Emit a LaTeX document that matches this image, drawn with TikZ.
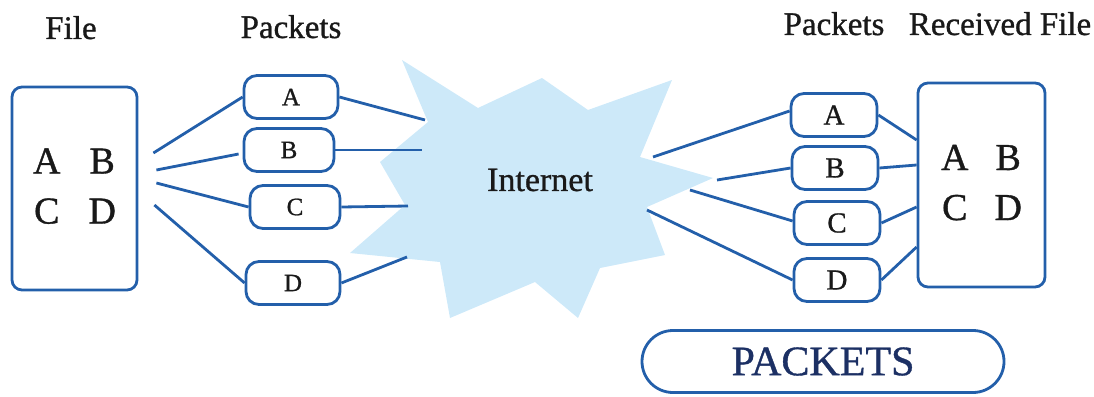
\documentclass[tikz,border=0pt]{standalone}
\usepackage{fontspec}
\setmainfont{Liberation Serif}[FakeBold=0.9]
\usetikzlibrary{calc}
\definecolor{lineblue}{RGB}{35,95,170}
\definecolor{cloudblue}{RGB}{205,233,249}
\definecolor{navy}{RGB}{28,48,100}
\definecolor{ink}{RGB}{25,25,25}
\begin{document}
\begin{tikzpicture}[x=1pt,y=-1pt,
  conn/.style={draw=lineblue,line width=2.8pt},
  filebox/.style={draw=lineblue,line width=2.8pt,rounded corners=10pt,minimum width=125pt,minimum height=203pt,inner sep=0pt,text=ink,
    font=\fontsize{38}{50}\selectfont},
  pkt/.style={draw=lineblue,line width=2.8pt,rounded corners=13pt,minimum width=94pt,minimum height=43pt,inner sep=0pt,text=ink},
  lbl/.style={font=\fontsize{33}{36}\selectfont,anchor=base,text=ink},
]
\useasboundingbox (0,0) rectangle (1094,396);

% cloud
\fill[cloudblue] (402,60) -- (478,108) -- (542,78) -- (588,110) -- (672,80) -- (640,157)
  -- (713,178) -- (647,207) -- (665,255) -- (600,268) -- (578,318) -- (535,282)
  -- (450,318) -- (440,262) -- (350,253) -- (405,205) -- (380,162) -- (428,122) -- cycle;
\node[font=\fontsize{34}{36}\selectfont,text=ink] (net) at (540,180) {Internet};

% labels
\node[lbl] (lfile) at (71,39) {File};
\node[lbl] (lpk1) at (291,38) {Packets};
\node[lbl] (lpk2) at (834,35) {Packets};
\node[lbl] (lrec) at (1000,35) {Received File};

% file boxes
\node[filebox] (fileL) at (74.5,188.5) {\begin{tabular}{@{}c@{\hspace{28pt}}c@{}}A&B\\C&D\end{tabular}};
\node[filebox,minimum width=127pt,minimum height=204pt] (fileR) at (981.5,185) {\begin{tabular}{@{}c@{\hspace{26pt}}c@{}}A&B\\C&D\end{tabular}};

% left packets
\node[pkt,font=\fontsize{25}{27}\selectfont] (pA) at (291,97) {A};
\node[pkt,font=\fontsize{25}{27}\selectfont,minimum width=90pt] (pB) at (289,150) {B};
\node[pkt,font=\fontsize{25}{27}\selectfont,minimum width=90pt] (pC) at (295,207) {C};
\node[pkt,font=\fontsize{25}{27}\selectfont] (pD) at (293,283) {D};

% right packets
\node[pkt,font=\fontsize{29}{31}\selectfont,minimum width=86pt] (qA) at (834,115) {A};
\node[pkt,font=\fontsize{29}{31}\selectfont,minimum width=86pt] (qB) at (835,168) {B};
\node[pkt,font=\fontsize{29}{31}\selectfont,minimum width=86pt] (qC) at (837,223) {C};
\node[pkt,font=\fontsize{29}{31}\selectfont,minimum width=86pt] (qD) at (837,280) {D};

% cloud end points
\coordinate (cLA) at (425,120);
\coordinate (cLB) at (422,150);
\coordinate (cLC) at (408,206);
\coordinate (cLD) at (407,257);
\coordinate (cRA) at (653,157);
\coordinate (cRB) at (717,180);
\coordinate (cRC) at (690,190);
\coordinate (cRD) at (647,210);

% left connectors
\draw[conn] ([xshift=15pt,yshift=35.5pt]fileL.east) -- (pA.west);
\draw[conn] ([xshift=18pt,yshift=18.5pt]fileL.east) -- ([xshift=-4pt,yshift=-4pt]pB.west);
\draw[conn] ([xshift=18pt,yshift=5.5pt]fileL.east) -- (pC.west);
\draw[conn] ([xshift=16pt,yshift=-16.5pt]fileL.east) -- (pD.west);
\draw[conn] (pA.east) -- (cLA);
\draw[conn] (pB.east) -- (cLB);
\draw[conn] (pC.east) -- (cLC);
\draw[conn] (pD.east) -- (cLD);

% right connectors
\draw[conn] (cRA) -- ([yshift=4pt]qA.west);
\draw[conn] (cRB) -- (qB.west);
\draw[conn] (cRC) -- ([yshift=2pt]qC.west);
\draw[conn] (cRD) -- (qD.west);
\draw[conn] (qA.east) -- ([yshift=45pt]fileR.west);
\draw[conn] (qB.east) -- ([yshift=20pt]fileR.west);
\draw[conn] (qC.east) -- ([yshift=-22pt]fileR.west);
\draw[conn] (qD.east) -- ([yshift=-62pt]fileR.west);

% PACKETS banner
\node[draw=lineblue,line width=2.8pt,rounded corners=31pt,minimum width=362pt,minimum height=62pt,
  inner sep=0pt,font=\fontsize{42}{44}\selectfont,text=navy] (pk) at (823,361.5) {PACKETS};
\end{tikzpicture}
\end{document}
